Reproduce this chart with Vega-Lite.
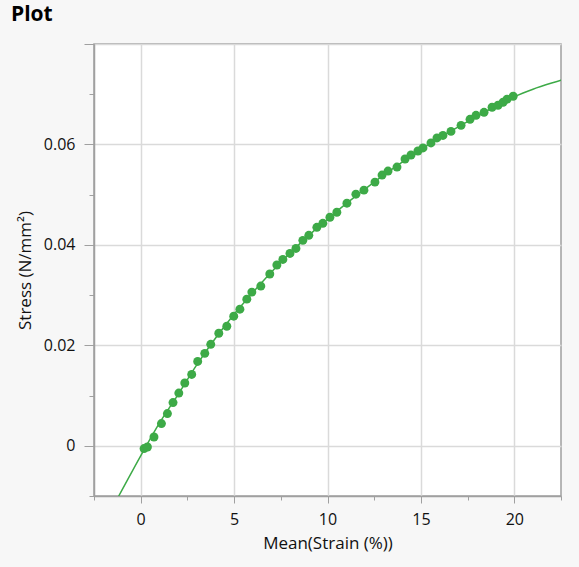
{
  "$schema": "https://vega.github.io/schema/vega-lite/v6.json",
  "width": 467,
  "height": 452,
  "autosize": {"type": "none"},
  "padding": {"left": 94, "top": 44, "right": 18, "bottom": 71},
  "background": "#f7f7f7",
  "title": {"text": "Plot", "anchor": "start", "frame": "group", "dx": -83, "offset": 2, "fontSize": 21, "fontWeight": "bold", "font": "Open Sans", "color": "#000000", "baseline": "alphabetic"},
  "datasets": {
    "points": [
      {"strain": 0.18, "stress": -0.00056},
      {"strain": 0.36, "stress": -0.00024},
      {"strain": 0.71, "stress": 0.00175},
      {"strain": 1.11, "stress": 0.00442},
      {"strain": 1.43, "stress": 0.00641},
      {"strain": 1.73, "stress": 0.0086},
      {"strain": 2.04, "stress": 0.0105},
      {"strain": 2.36, "stress": 0.0125},
      {"strain": 2.73, "stress": 0.0142},
      {"strain": 3.05, "stress": 0.0168},
      {"strain": 3.43, "stress": 0.0184},
      {"strain": 3.75, "stress": 0.0202},
      {"strain": 4.18, "stress": 0.0224},
      {"strain": 4.61, "stress": 0.0238},
      {"strain": 4.98, "stress": 0.0258},
      {"strain": 5.31, "stress": 0.0272},
      {"strain": 5.68, "stress": 0.0292},
      {"strain": 5.95, "stress": 0.0306},
      {"strain": 6.43, "stress": 0.0318},
      {"strain": 6.91, "stress": 0.0342},
      {"strain": 7.29, "stress": 0.036},
      {"strain": 7.61, "stress": 0.0371},
      {"strain": 7.99, "stress": 0.0383},
      {"strain": 8.31, "stress": 0.0393},
      {"strain": 8.68, "stress": 0.0409},
      {"strain": 9.0, "stress": 0.0419},
      {"strain": 9.43, "stress": 0.0435},
      {"strain": 9.75, "stress": 0.0443},
      {"strain": 10.13, "stress": 0.0455},
      {"strain": 10.5, "stress": 0.0465},
      {"strain": 11.04, "stress": 0.0483},
      {"strain": 11.52, "stress": 0.0501},
      {"strain": 11.95, "stress": 0.0509},
      {"strain": 12.54, "stress": 0.0525},
      {"strain": 12.92, "stress": 0.0539},
      {"strain": 13.24, "stress": 0.0547},
      {"strain": 13.72, "stress": 0.0555},
      {"strain": 14.15, "stress": 0.0571},
      {"strain": 14.47, "stress": 0.0579},
      {"strain": 14.84, "stress": 0.0587},
      {"strain": 15.11, "stress": 0.0593},
      {"strain": 15.54, "stress": 0.0603},
      {"strain": 15.86, "stress": 0.0613},
      {"strain": 16.18, "stress": 0.0618},
      {"strain": 16.61, "stress": 0.0626},
      {"strain": 17.15, "stress": 0.0638},
      {"strain": 17.63, "stress": 0.065},
      {"strain": 17.95, "stress": 0.0658},
      {"strain": 18.38, "stress": 0.0664},
      {"strain": 18.81, "stress": 0.0674},
      {"strain": 19.13, "stress": 0.0678},
      {"strain": 19.4, "stress": 0.0684},
      {"strain": 19.61, "stress": 0.069},
      {"strain": 19.94, "stress": 0.0696}
    ],
    "fit": [
      {"strain": -1.5, "stress": -0.0122},
      {"strain": -1.16, "stress": -0.0099},
      {"strain": 0, "stress": -0.002},
      {"strain": 1, "stress": 0.0045},
      {"strain": 2, "stress": 0.0102},
      {"strain": 3, "stress": 0.0161},
      {"strain": 4, "stress": 0.0214},
      {"strain": 5, "stress": 0.0262},
      {"strain": 6, "stress": 0.0305},
      {"strain": 7, "stress": 0.0346},
      {"strain": 8, "stress": 0.0384},
      {"strain": 9, "stress": 0.0419},
      {"strain": 10, "stress": 0.0451},
      {"strain": 11, "stress": 0.0482},
      {"strain": 12, "stress": 0.0511},
      {"strain": 13, "stress": 0.0539},
      {"strain": 14, "stress": 0.0565},
      {"strain": 15, "stress": 0.059},
      {"strain": 16, "stress": 0.0613},
      {"strain": 17, "stress": 0.0635},
      {"strain": 18, "stress": 0.0656},
      {"strain": 19, "stress": 0.0676},
      {"strain": 20, "stress": 0.0695},
      {"strain": 21, "stress": 0.071},
      {"strain": 22.5, "stress": 0.0728},
      {"strain": 23, "stress": 0.0734}
    ]
  },
  "layer": [
    {
      "data": {"name": "fit"},
      "mark": {"type": "line", "color": "#3daa47", "strokeWidth": 1.5, "clip": true, "interpolate": "monotone"},
      "encoding": {
        "x": {"field": "strain", "type": "quantitative", "scale": {"domain": [-2.5, 22.5], "nice": false, "zero": false},
          "axis": {"orient": "bottom", "values": [-2.5, 2.5, 7.5, 12.5, 17.5, 22.5], "labels": false, "domain": false, "grid": false, "tickSize": 4, "title": null}},
        "y": {"field": "stress", "type": "quantitative", "scale": {"domain": [-0.01, 0.08], "nice": false, "zero": false},
          "axis": {"orient": "left", "values": [-0.01, 0.01, 0.03, 0.05, 0.07], "labels": false, "domain": false, "grid": false, "tickSize": 5, "title": null}}
      }
    },
    {
      "data": {"name": "points"},
      "mark": {"type": "circle", "size": 80, "color": "#3daa47", "opacity": 1},
      "encoding": {
        "x": {"field": "strain", "type": "quantitative",
          "axis": {"orient": "bottom", "values": [0, 5, 10, 15, 20], "format": "d", "tickSize": 7, "labelPadding": 8, "labelDx": -3, "grid": true, "title": "Mean(Strain (%))", "titlePadding": 8}},
        "y": {"field": "stress", "type": "quantitative",
          "axis": {"orient": "left", "values": [0, 0.02, 0.04, 0.06, 0.08], "labelExpr": "datum.value > 0.07 ? '' : (datum.value == 0 ? '0' : format(datum.value, '.2f'))", "tickSize": 10, "labelPadding": 9, "grid": true, "title": "Stress (N/mm²)", "titlePadding": 9}}
      }
    }
  ],
  "resolve": {"axis": {"x": "independent", "y": "independent"}},
  "config": {
    "view": {"stroke": "#a0a0a0", "strokeWidth": 1.5, "fill": "#ffffff"},
    "font": "Open Sans",
    "axis": {
      "domainColor": "#a0a0a0",
      "domainWidth": 1.5,
      "tickColor": "#a0a0a0",
      "tickWidth": 1,
      "gridColor": "#dadada",
      "gridWidth": 1.5,
      "labelFont": "Open Sans",
      "labelFontSize": 16,
      "labelColor": "#111111",
      "titleFont": "Open Sans",
      "titleFontSize": 17,
      "titleFontWeight": "normal",
      "titleColor": "#111111"
    }
  }
}
